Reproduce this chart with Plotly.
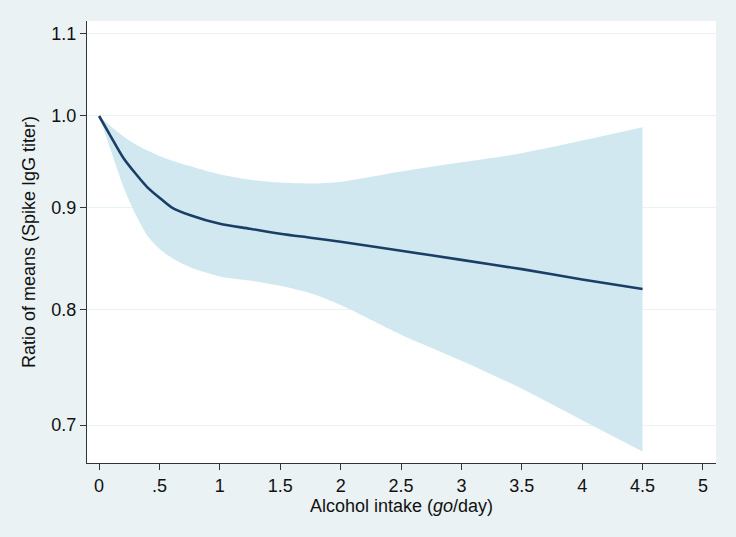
import plotly.graph_objects as go

intake = [0, 0.1, 0.2, 0.3, 0.4, 0.5, 0.6, 0.75, 1.0, 1.25, 1.5, 1.75, 2.0, 2.5, 3.0, 3.5, 4.0, 4.5]
ratio = [1.0, 0.976, 0.953, 0.936, 0.921, 0.910, 0.900, 0.892, 0.883, 0.878, 0.873, 0.869, 0.865, 0.856, 0.847, 0.838, 0.828, 0.819]
upper = [1.0, 0.988, 0.977, 0.968, 0.961, 0.955, 0.950, 0.944, 0.935, 0.929, 0.926, 0.925, 0.927, 0.938, 0.948, 0.958, 0.972, 0.987]
lower = [1.0, 0.960, 0.922, 0.893, 0.871, 0.858, 0.849, 0.840, 0.831, 0.827, 0.822, 0.815, 0.804, 0.777, 0.754, 0.730, 0.704, 0.679]

y_ticks = [0.7, 0.8, 0.9, 1.0, 1.1]
y_ticklabels = ["0.7", "0.8", "0.9", "1.0", "1.1"]
x_ticks = [0, 0.5, 1, 1.5, 2, 2.5, 3, 3.5, 4, 4.5, 5]
x_ticklabels = ["0", ".5", "1", "1.5", "2", "2.5", "3", "3.5", "4", "4.5", "5"]

band = "#d2e8f0"
fig = go.Figure()
fig.add_trace(go.Scatter(
    x=intake, y=lower, mode="lines",
    line=dict(width=0, color=band, shape="spline", smoothing=0.8),
    hoverinfo="skip", showlegend=False,
))
fig.add_trace(go.Scatter(
    x=intake, y=upper, mode="lines", fill="tonexty", fillcolor=band,
    line=dict(width=0, color=band, shape="spline", smoothing=0.8),
    hoverinfo="skip", showlegend=False,
))
fig.add_trace(go.Scatter(
    x=intake, y=ratio, mode="lines",
    line=dict(color="#1a3f66", width=2.6, shape="spline", smoothing=0.8),
    showlegend=False,
))

font = dict(family="Liberation Sans, Arial, sans-serif", size=18, color="#111111")
fig.update_layout(
    width=736, height=537,
    margin=dict(l=87, r=20, t=21, b=74),
    paper_bgcolor="#eaf2f3",
    plot_bgcolor="#ffffff",
    font=font,
)
fig.update_xaxes(
    range=[-0.1, 5.108],
    tickvals=x_ticks, ticktext=x_ticklabels,
    showline=True, linecolor="#333333", linewidth=1.3,
    ticks="outside", ticklen=6, tickcolor="#333333", tickwidth=1,
    showgrid=False, zeroline=False,
    title=dict(text="Alcohol intake (<i>go</i>/day)", font=font, standoff=1),
)
fig.update_yaxes(
    type="log",
    range=[-0.1739, 0.0476],
    tickvals=y_ticks, ticktext=y_ticklabels,
    showline=True, linecolor="#333333", linewidth=1.3,
    ticks="outside", ticklen=6, tickcolor="#333333", tickwidth=1,
    showgrid=True, gridcolor="#eaf2f3", gridwidth=1,
    zeroline=False,
    title=dict(text="Ratio of means (Spike IgG titer)", font=font, standoff=10),
)

fig.write_html("out.html", config={"displayModeBar": False},
               post_script="document.body.style.margin='0';document.body.style.padding='0';")
